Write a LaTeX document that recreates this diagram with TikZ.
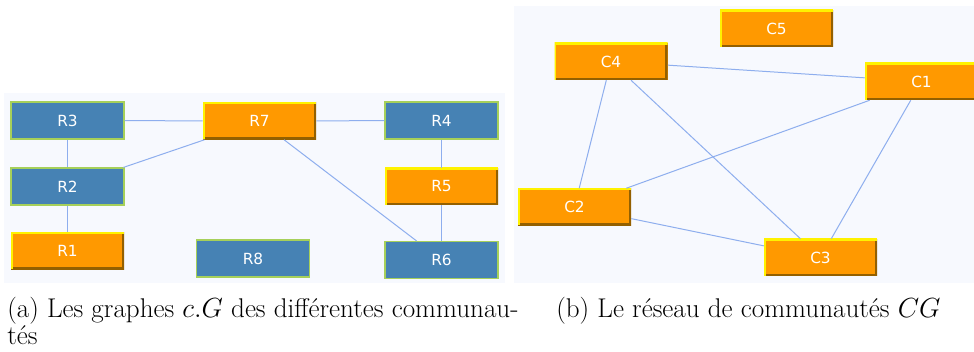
\documentclass[tikz,border=0pt]{standalone}
\usepackage{fontspec}
\newfontfamily\lblfont{DejaVu Sans}
\definecolor{panelbg}{HTML}{F7F9FE}
\definecolor{bluefill}{HTML}{4682B4}
\definecolor{blueborder}{HTML}{A6D05A}
\definecolor{orfill}{HTML}{FF9900}
\definecolor{oryellow}{HTML}{FFF200}
\definecolor{orbrown}{HTML}{946000}
\definecolor{edgecol}{HTML}{8EAEEE}
\tikzset{
  boxbase/.style={rectangle, minimum width=84.75pt, minimum height=27.75pt, inner sep=0pt,
    text=white, font=\lblfont\fontsize{11.5}{13}\selectfont},
  bluebox/.style={boxbase, fill=bluefill, draw=blueborder, line width=0.8pt},
  orangebox/.style={boxbase, fill=orfill,
    path picture={
      \draw[line width=3.2pt, orbrown] (path picture bounding box.north east) -- (path picture bounding box.south east) -- (path picture bounding box.south west);
      \draw[line width=2.4pt, oryellow] (path picture bounding box.south west) -- (path picture bounding box.north west) -- (path picture bounding box.north east);
    }},
  link/.style={draw=edgecol, line width=0.75pt},
  captext/.style={anchor=base west, inner sep=0pt, font=\fontsize{20.3}{24}\selectfont}
}
\begin{document}
\begin{tikzpicture}[x=0.75pt, y=-0.75pt]
\useasboundingbox (0,0) rectangle (974,352);
\begin{scope}
\clip (0,0) rectangle (974,352);
% panels
\fill[panelbg] (4,93) rectangle (505,283);
\fill[panelbg] (514,6) rectangle (974,283);
% left panel nodes
\node[bluebox] (R3) at (67.5,120.5) {R3};
\node[orangebox] (R7) at (259.5,121) {R7};
\node[bluebox] (R4) at (441.5,120.5) {R4};
\node[bluebox] (R2) at (67.5,186.5) {R2};
\node[orangebox] (R5) at (441.5,186.5) {R5};
\node[orangebox] (R1) at (67.5,251) {R1};
\node[bluebox] (R8) at (253,258.5) {R8};
\node[bluebox] (R6) at (441.5,260) {R6};
\path[link] (R3) -- (R7);
\path[link] (R7) -- (R4);
\path[link] (R3) -- (R2);
\path[link] (R2) -- (R7);
\path[link] (R2) -- (R1);
\path[link] (R7) -- (R6);
\path[link] (R4) -- (R5);
\path[link] (R5) -- (R6);
% right panel nodes
\node[orangebox] (C5) at (776.5,28.5) {C5};
\node[orangebox] (C4) at (611,61.5) {C4};
\node[orangebox] (C1) at (921.5,81.5) {C1};
\node[orangebox] (C2) at (574.5,207) {C2};
\node[orangebox] (C3) at (820.5,257.5) {C3};
\path[link] (C4) -- (C1);
\path[link] (C4) -- (C2);
\path[link] (C4) -- (C3);
\path[link] (C1) -- (C2);
\path[link] (C1) -- (C3);
\path[link] (C2) -- (C3);
\end{scope}
% captions
\node[captext] (capa1) at (7,318) {(a) Les graphes $c.G$ des différentes communau-};
\node[captext] (capa2) at (7,345) {tés};
\node[captext] (capb) at (556,318) {(b) Le réseau de communautés $CG$};
\end{tikzpicture}
\end{document}
